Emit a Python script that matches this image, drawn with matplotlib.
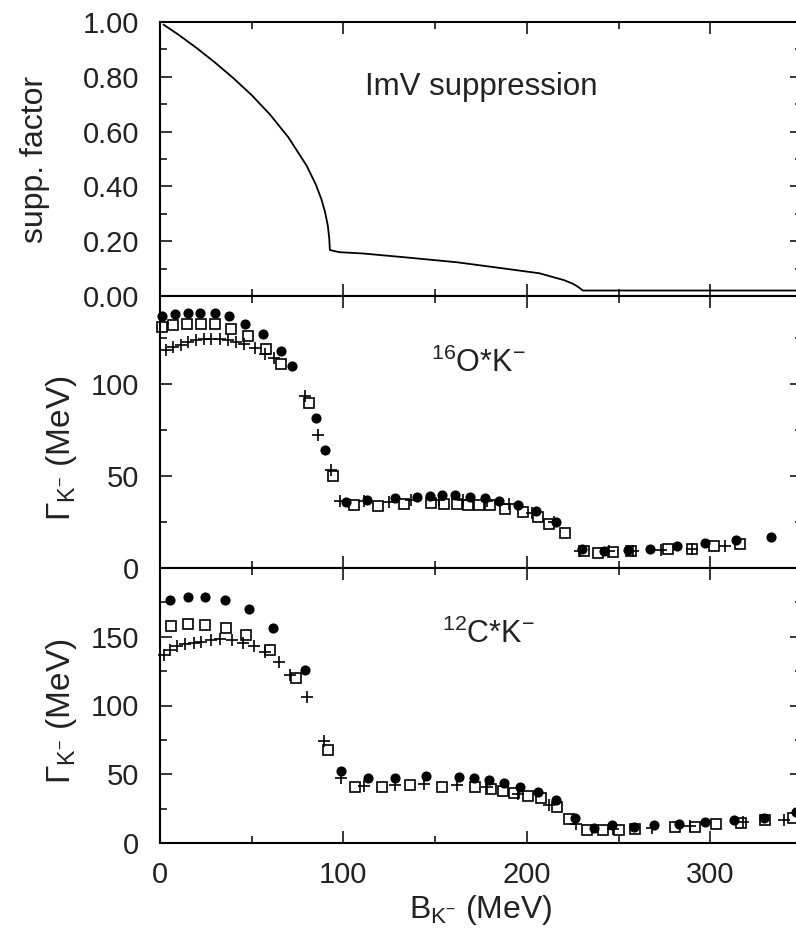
import matplotlib
matplotlib.use("Agg")
import matplotlib.pyplot as plt
from matplotlib.ticker import MultipleLocator, FixedLocator, FormatStrFormatter

plt.rcParams['font.family'] = ['Liberation Sans', 'DejaVu Sans']
plt.rcParams['mathtext.fontset'] = 'custom'
plt.rcParams['mathtext.rm'] = 'Liberation Sans'
plt.rcParams['mathtext.it'] = 'Liberation Sans:italic'
plt.rcParams['mathtext.bf'] = 'Liberation Sans:bold'

# ImV suppression factor vs binding energy
supp_B = [2.0, 10, 20, 30, 40, 50, 60, 70, 80, 85, 88, 90, 91.5, 92.3, 92.6,
          97.6, 111, 135.5, 162, 186.8, 206.8, 220.2, 225, 228, 230.5, 350]
supp_f = [0.99, 0.954, 0.905, 0.852, 0.795, 0.733, 0.662, 0.579, 0.475, 0.406,
          0.353, 0.306, 0.256, 0.208, 0.168,
          0.160, 0.155, 0.140, 0.123, 0.101, 0.083, 0.058, 0.045, 0.033, 0.02, 0.02]

# 16O*K- widths
o_circ_B = [1, 8, 15, 22, 30, 37.5, 46.5, 56, 66, 72, 85, 90, 101.5, 113, 128,
            140, 147, 154, 161, 169, 177, 185, 195, 205, 216, 230, 242, 255,
            267, 282, 297, 314, 333]
o_circ_G = [137, 138, 138.5, 139, 138.5, 137, 133, 127.5, 118, 110, 81.5, 64,
            36, 37, 38, 38.5, 39, 39.5, 39.5, 38.5, 38, 36.5, 34.5, 31, 25,
            10.5, 9.5, 10, 10.5, 12, 13.5, 15.5, 17]
o_sq_B = [1, 7, 14.5, 22.3, 30, 38.5, 48, 58, 66, 81, 94.5, 106, 119, 133, 148,
          155, 162, 168, 174, 180, 188, 198, 206, 212, 221, 231, 239, 247, 257,
          277, 290, 302, 316]
o_sq_G = [131, 132, 133, 133, 132.5, 130, 126, 119, 111, 90, 50, 34.5, 34, 35,
          35.5, 35, 35, 34.5, 34.5, 34.5, 32, 30.5, 27.5, 24, 19, 9, 8, 8.5, 9,
          10.5, 10.5, 12, 13]
o_plus_B = [3.5, 7, 11.5, 15.5, 19.5, 24, 28, 32.5, 37, 41.5, 46, 52, 57.5, 62,
            79, 86, 93, 98, 111, 125, 137, 152, 165, 178, 190, 203, 215, 229,
            245, 258, 273, 290, 308]
o_plus_G = [118.5, 120, 121.5, 123, 124, 124.5, 124.5, 124.5, 124, 123, 122,
            119.5, 116.5, 114, 93.5, 72.5, 53.5, 36.5, 36.5, 36, 37, 37, 37,
            36.5, 35, 30, 25, 9.5, 9, 9.5, 10, 10.5, 12]

# 12C*K- widths
c_circ_B = [5.5, 15, 24.5, 35.5, 48.5, 61.5, 79, 98.5, 113.5, 128, 145, 163,
            171, 179.5, 187.5, 196.5, 206, 216, 226, 236.5, 246.5, 258.5,
            269.5, 283, 297, 313, 329.5, 347]
c_circ_G = [177, 179, 179, 176.5, 170, 156.5, 125.5, 52.5, 47.5, 47.5, 49, 48,
            47, 46, 43.5, 41, 37, 31.5, 18.5, 11, 13, 12, 13, 13.5, 15, 17,
            18.5, 22.5]
c_sq_B = [6, 15, 24.5, 36, 47, 60, 74, 91.5, 106.5, 121, 136.5, 154, 172,
          180.5, 187, 193, 200.5, 207.5, 216.5, 223, 233, 241.5, 250.5, 259,
          280.5, 291.5, 303, 317, 330, 345]
c_sq_G = [157.5, 159, 158.5, 156.5, 151.5, 140.5, 120, 68, 41, 41, 42, 41,
          40.5, 39, 38, 36.5, 34.5, 32.5, 26, 17.5, 9.5, 9.5, 9.5, 10, 12, 12,
          13.5, 14.5, 16.5, 18.5]
c_plus_B = [2, 5.5, 9.5, 13.5, 18.5, 22.5, 28, 32.5, 39.5, 45.5, 51, 57, 65,
            71, 80, 89.5, 98.5, 111, 128, 144, 162, 178, 195, 212, 227, 247,
            268, 289, 318, 340]
c_plus_G = [137, 140.5, 143, 144.5, 145.5, 146.5, 148, 148.5, 148, 145.5, 143,
            139, 131.5, 122.5, 106.5, 74, 47, 41.5, 42, 43, 42.5, 41, 36, 28,
            13.5, 10.5, 11, 12.5, 15.5, 17]

# tick values
x_major = [0, 100, 200, 300]
supp_ticks = [0.0, 0.2, 0.4, 0.6, 0.8, 1.0]
o_ticks = [0, 50, 100]
c_ticks = [0, 50, 100, 150]

W, H = 796, 934
fig = plt.figure(figsize=(W / 100, H / 100), dpi=100)

left = 160 / W
width = 642 / W
ax_top = fig.add_axes([left, (H - 296) / H, width, 274 / H])
ax_mid = fig.add_axes([left, (H - 568) / H, width, 272 / H])
ax_bot = fig.add_axes([left, (H - 843) / H, width, 275 / H])

text_col = '#222222'

for ax in (ax_top, ax_mid, ax_bot):
    ax.set_xlim(0, 350)
    ax.xaxis.set_major_locator(FixedLocator(x_major))
    ax.xaxis.set_minor_locator(MultipleLocator(50))
    ax.tick_params(which='both', direction='in', top=True, right=True,
                   width=1.1, colors='black', labelcolor=text_col,
                   labelsize=21)
    ax.tick_params(which='major', length=8.5)
    ax.tick_params(which='minor', length=5)
    ax.tick_params(axis='y', pad=15)
    ax.tick_params(axis='x', pad=13)
    for sp in ax.spines.values():
        sp.set_linewidth(1.5)

ax_top.tick_params(labelbottom=False)
ax_mid.tick_params(labelbottom=False)

# top panel
ax_top.plot(supp_B, supp_f, color='black', lw=1.3)
ax_top.set_ylim(0, 1.0)
ax_top.yaxis.set_major_locator(FixedLocator(supp_ticks))
ax_top.yaxis.set_minor_locator(MultipleLocator(0.1))
ax_top.yaxis.set_major_formatter(FormatStrFormatter('%.2f'))
ax_top.set_ylabel('supp. factor', fontsize=23, color=text_col)
ax_top.yaxis.set_label_coords(-0.172, 0.5)
ax_top.text(112, 0.735, 'ImV suppression', fontsize=22.5, color=text_col,
            ha='left', va='baseline')


def draw_widths(ax, cb, cg, sb, sg, pb, pg):
    ax.plot(cb, cg, linestyle='none', marker='o', ms=6.3, color='black',
            clip_on=False, zorder=3)
    ax.plot(sb, sg, linestyle='none', marker='s', ms=6.8, mfc='none',
            mec='black', mew=1.2, clip_on=False, zorder=4)
    ax.plot(pb, pg, linestyle='none', marker='+', ms=8, color='black',
            mew=1.2, clip_on=False, zorder=5)


draw_widths(ax_mid, o_circ_B, o_circ_G, o_sq_B, o_sq_G, o_plus_B, o_plus_G)
ax_mid.set_ylim(0, 148)
ax_mid.yaxis.set_major_locator(FixedLocator(o_ticks))
ax_mid.yaxis.set_minor_locator(MultipleLocator(25))
ax_mid.set_ylabel(r'$\Gamma_{\mathrm{K}^{-}}$ (MeV)', fontsize=24, color=text_col)
ax_mid.yaxis.set_label_coords(-0.126, 0.44)
ax_mid.text(148, 106.7, r'$^{16}$O*K$^{-}$', fontsize=22, color=text_col,
            ha='left', va='baseline')

draw_widths(ax_bot, c_circ_B, c_circ_G, c_sq_B, c_sq_G, c_plus_B, c_plus_G)
ax_bot.set_ylim(0, 200)
ax_bot.yaxis.set_major_locator(FixedLocator(c_ticks))
ax_bot.yaxis.set_minor_locator(MultipleLocator(25))
ax_bot.set_ylabel(r'$\Gamma_{\mathrm{K}^{-}}$ (MeV)', fontsize=24, color=text_col)
ax_bot.yaxis.set_label_coords(-0.126, 0.48)
ax_bot.text(154, 145.8, r'$^{12}$C*K$^{-}$', fontsize=22, color=text_col,
            ha='left', va='baseline')
ax_bot.set_xlabel(r'B$_{\mathrm{K}^{-}}$ (MeV)', fontsize=23, color=text_col,
                  labelpad=3)

fig.savefig('out.png', dpi=100)
